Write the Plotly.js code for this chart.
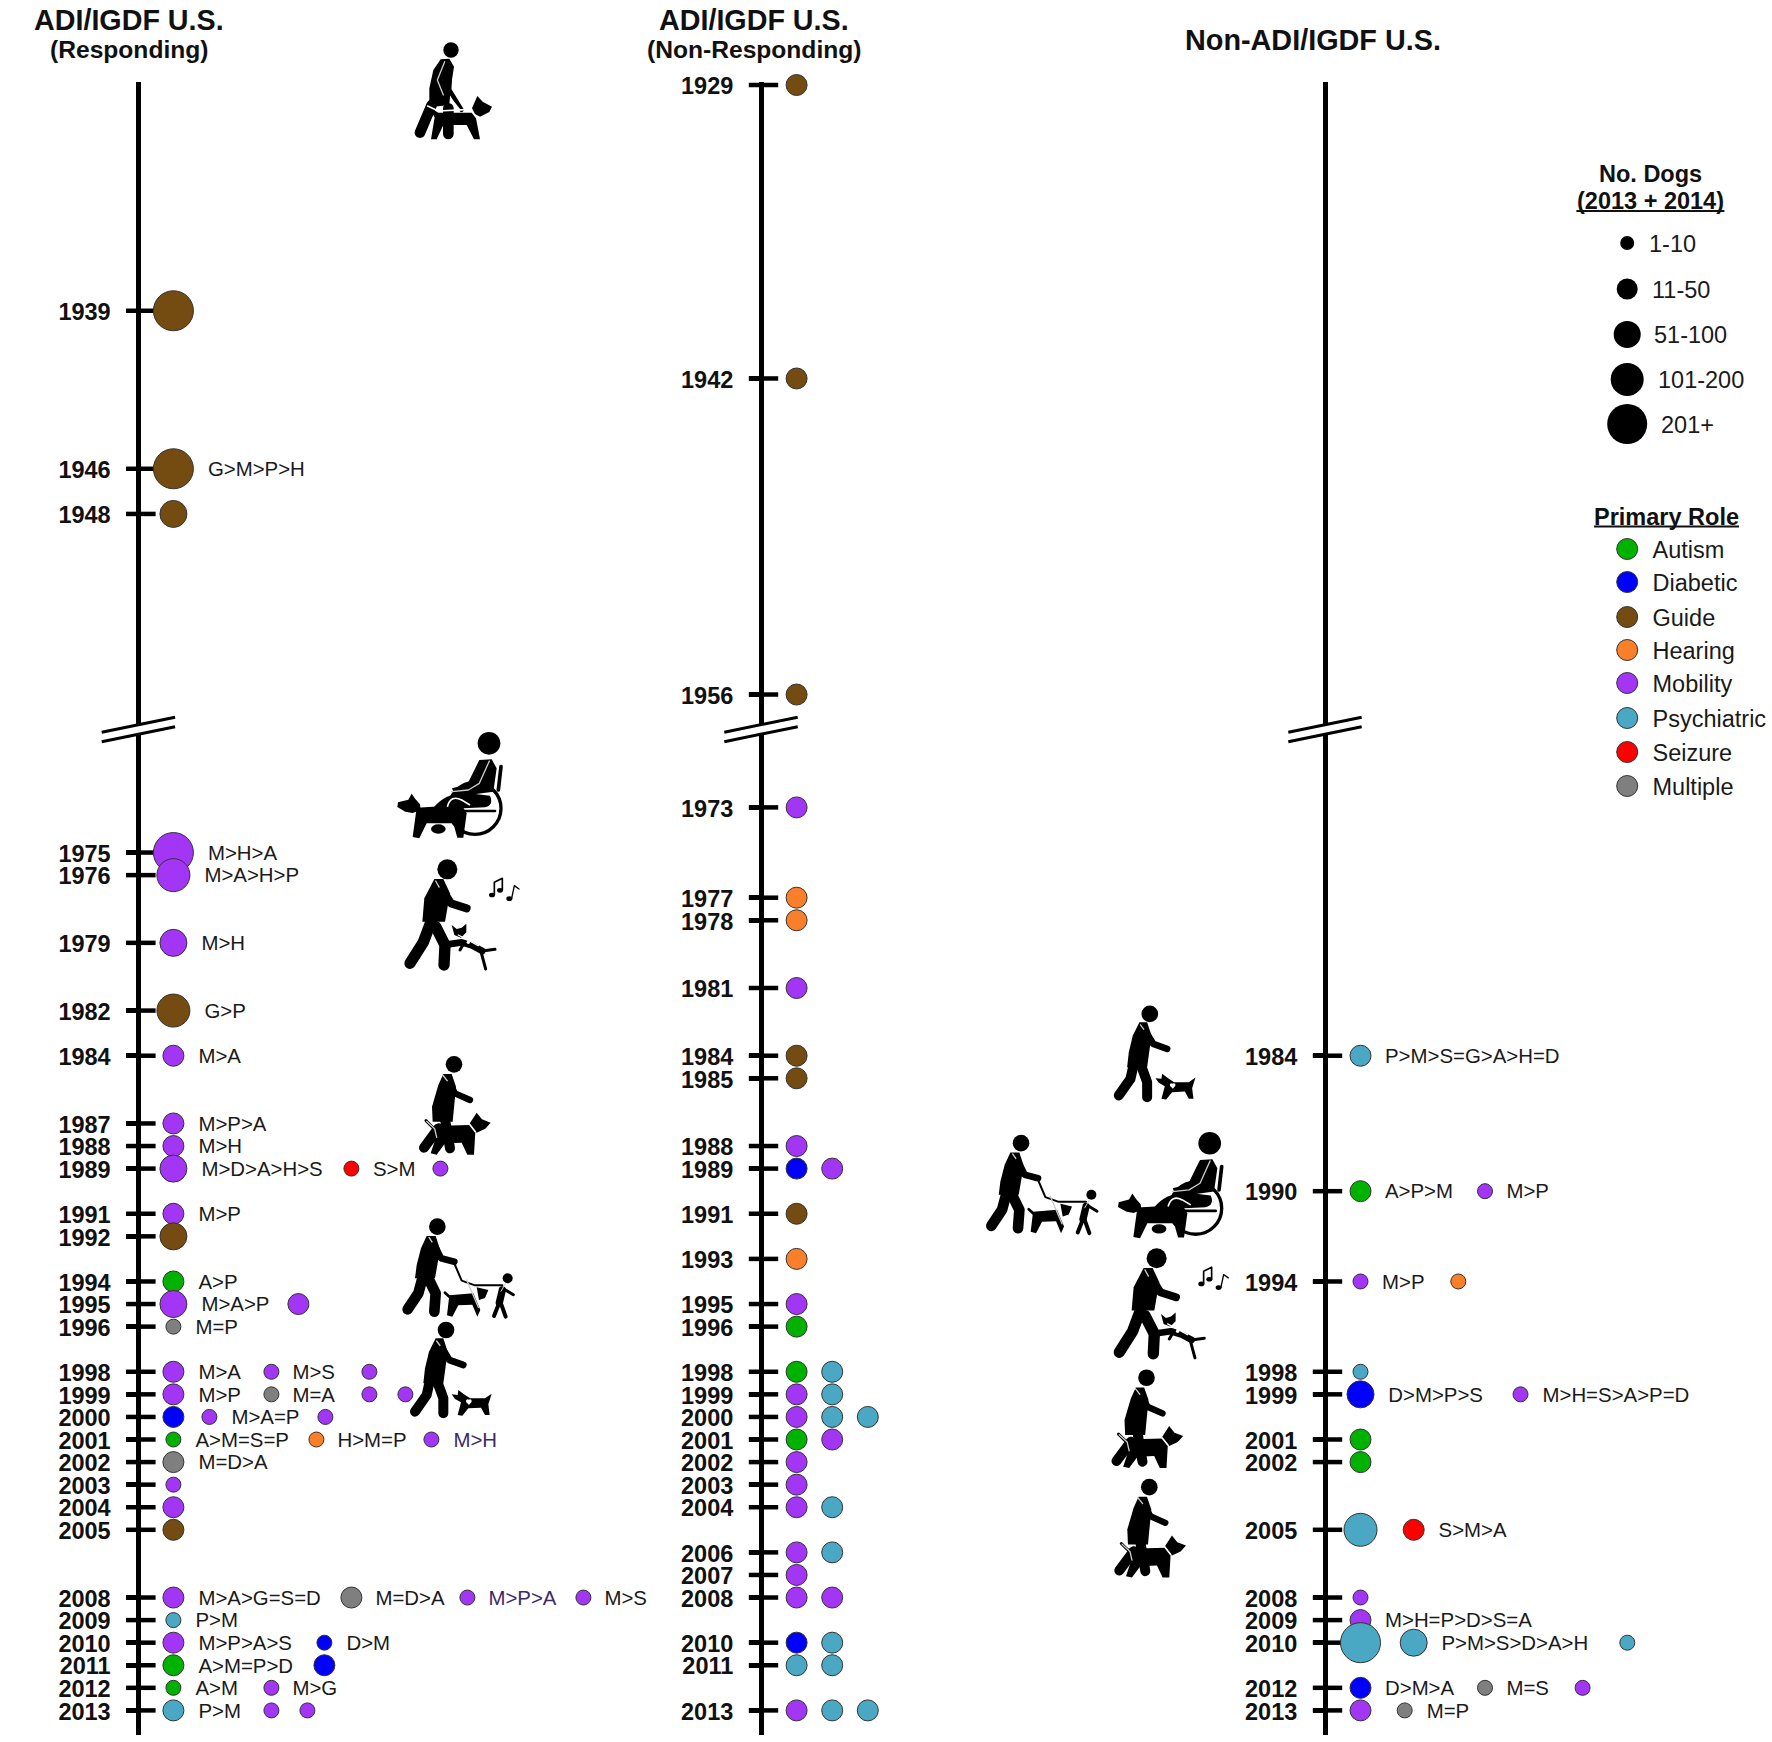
<!DOCTYPE html>
<html>
<head>
<meta charset="utf-8">
<script src="https://cdn.plot.ly/plotly-3.0.1.min.js"></script>
<style>html,body{margin:0;padding:0;background:#fff}#chart{width:1772px;height:1742px}</style>
</head>
<body>
<div id="chart"></div>
<script>
// ---------- DATA ----------
const roleCodes = ['A','D','G','H','M','P','S','X'];
const roleNames = ['Autism','Diabetic','Guide','Hearing','Mobility','Psychiatric','Seizure','Multiple'];
const binNames = ['1-10','11-50','51-100','101-200','201+'];

// Panel 1: ADI/IGDF U.S. (Responding)
const respYears = [1939,1946,1948,1975,1976,1979,1982,1984,1987,1988,1989,1989,1989,1991,1992,1994,1995,1995,1996,1998,1998,1998,1999,1999,1999,1999,2000,2000,2000,2001,2001,2001,2002,2003,2004,2005,2008,2008,2008,2008,2009,2010,2010,2011,2011,2012,2012,2013,2013,2013];
const respRoles = 'G G G M M M G M M M M S M M G A M M X M M M M X M M D M M A H M X M M G M X M M P M D A D A M P M M'.split(' ');
const respBins  = [5,5,3,5,4,3,4,2,2,2,3,1,1,2,3,2,3,2,1,2,1,1,2,1,1,1,2,1,1,1,1,1,2,1,2,2,2,2,1,1,1,2,1,2,2,1,1,2,1,1];
const respLabelYears = [1946,1975,1976,1979,1982,1984,1987,1988,1989,1989,1991,1994,1995,1996,1998,1998,1999,1999,2000,2001,2001,2001,2002,2008,2008,2008,2008,2009,2010,2010,2011,2012,2012,2013];
const respLabels = ['G>M>P>H','M>H>A','M>A>H>P','M>H','G>P','M>A','M>P>A','M>H','M>D>A>H>S','S>M','M>P','A>P','M>A>P','M=P','M>A','M>S','M>P','M=A','M>A=P','A>M=S=P','H>M=P','M>H','M=D>A','M>A>G=S=D','M=D>A','M>P>A','M>S','P>M','M>P>A>S','D>M','A>M=P>D','A>M','M>G','P>M'];

// Panel 2: ADI/IGDF U.S. (Non-Responding)
const nonRespYears = [1929,1942,1956,1973,1977,1978,1981,1984,1985,1988,1989,1989,1991,1993,1995,1996,1998,1998,1999,1999,2000,2000,2000,2001,2001,2002,2003,2004,2004,2006,2006,2007,2008,2008,2010,2010,2011,2011,2013,2013,2013];
const nonRespRoles = 'G G G M H H M G G M D M G H M A A P M P M P P A M M M M P M P M M M D P P P M P P'.split(' ');

// Panel 3: Non-ADI/IGDF U.S.
const nonAdiYears = [1984,1990,1990,1994,1994,1998,1999,1999,2001,2002,2005,2005,2008,2009,2010,2010,2010,2012,2012,2012,2013,2013];
const nonAdiRoles = 'P A M M H P D M A A P S M M P P P D X M M X'.split(' ');
const nonAdiBins  = [2,2,1,1,1,1,3,1,2,2,4,2,1,2,5,3,1,2,1,1,2,1];
const nonAdiLabelYears = [1984,1990,1990,1994,1999,1999,2005,2009,2010,2012,2012,2013];
const nonAdiLabels = ['P>M>S=G>A>H=D','A>P>M','M>P','M>P','D>M>P>S','M>H=S>A>P=D','S>M>A','M>H=P>D>S=A','P>M>S>D>A>H','D>M>A','M=S','M=P'];

// ---------- LAYOUT CONSTANTS (pixels, styles) ----------
const W = 1772, H = 1742;
const FONT = '"Liberation Sans", Arial, sans-serif';
const roleColors = ['#00b200','#0000ff','#744c11','#f97f2a','#a335f5','#4aa8c4','#ff0000','#7f7f7f'];
const binSizes = [15,21,27,33,40];
const colorOf = r => roleColors[roleCodes.indexOf(r)];
const sizeOf = b => binSizes[b-1];

const respDotX = [35,35,35,35,35,35,35,35,35,35,35,213,302,35,35,35,35,160,35,35,133,231,35,133,231,267,35,71,187,35,178,293,35,35,35,35,35,213,329,445,35,35,186,35,186,35,133,35,133,169];
const respLabelX = [69.5,69.5,66,63,66,60,60,60,63,234.5,60,60,63,57,60,154,60,154,93,57,199,315,60,60,237,350,466,57,60,208,60,57,154,60];
const respLabelColors = respLabels.map((_, i) => (i === 21 || i === 25) ? '#3d2a66' : '#1a1a1a');
const nonRespDotX = [35.6,35.6,35.6,35.6,35.6,35.6,35.6,35.6,35.6,35.6,35.6,71.2,35.6,35.6,35.6,35.6,35.6,71.2,35.6,71.2,35.6,71.2,106.8,35.6,71.2,35.6,35.6,35.6,71.2,35.6,71.2,35.6,35.6,71.2,35.6,71.2,35.6,71.2,35.6,71.2,106.8];
const nonAdiDotX = [35.5,35.5,160,35.5,133.3,35.5,35.5,195.5,35.5,35.5,35.5,88.7,35.5,35.5,35.5,88.7,302.3,35.5,160,257.6,35.5,79.7];
const nonAdiLabelX = [60,60,181.4,57,63.3,217.5,113.6,60,116.4,60,181.4,101.7];

// The axis break: years after it are drawn closer to the years before it.
const BREAK_AFTER = 1956, BREAK_GAP = 12;
const pos = y => y > BREAK_AFTER ? y - BREAK_GAP : y;
const PX_PER_YEAR = 22.575, Y0_PX = 85, Y0 = 1929;
const AXIS_TOP = 82, AXIS_BOTTOM = 1735;
const pxToPos = p => Y0 + (p - Y0_PX) / PX_PER_YEAR;
const LABEL_NUDGE = 2.2 / PX_PER_YEAR;

const axisX = [138.4, 761, 1325];
const panelEnd = [758, 1322, 1770];
const uniq = a => [...new Set(a)].sort((p, q) => p - q);

const layout = {
  width: W, height: H, margin: {l:0,r:0,t:0,b:0,pad:0},
  paper_bgcolor:'#fff', plot_bgcolor:'rgba(0,0,0,0)', showlegend:false,
  font:{family:FONT,color:'#000'}, annotations:[], shapes:[], images:[],
  xaxis4:{domain:[0,1],range:[0,W],visible:false,fixedrange:true},
  yaxis4:{domain:[0,1],range:[H,0],visible:false,fixedrange:true,anchor:'x4'}
};
const traces = [];

function panel(n, years, roles, bins, dotX, labelYears, labels, labelX, labelColors) {
  const s = n === 1 ? '' : String(n);
  const lw = 5, ax = axisX[n-1];
  const left = ax + lw/2;
  layout['xaxis'+s] = {domain:[left/W, panelEnd[n-1]/W], range:[lw/2, panelEnd[n-1]-left+lw/2],
    visible:false, fixedrange:true, anchor:'y'+s};
  const vals = uniq(years);
  layout['yaxis'+s] = {domain:[(H-AXIS_BOTTOM)/H,(H-AXIS_TOP)/H],
    range:[pxToPos(AXIS_BOTTOM), pxToPos(AXIS_TOP)], anchor:'x'+s, fixedrange:true,
    showgrid:false, zeroline:false, showline:true, linewidth:lw, linecolor:'#000',
    ticks:'outside', ticklen:9.5, tickwidth:4.5, tickcolor:'#000',
    tickmode:'array', tickvals:vals.map(pos), ticktext:vals.map(String),
    ticklabelstandoff:11, ticklabelshift:-1, tickfont:{family:FONT,size:23.5,color:'#111',weight:700}};
  // right half of each crossing tick: sits at the left edge of the panel
  traces.push({xaxis:'x'+s,yaxis:'y'+s,type:'scatter',mode:'markers',cliponaxis:false,hoverinfo:'skip',
    x:vals.map(()=>lw/2), y:vals.map(pos),
    marker:{symbol:'line-ew',size:21,line:{width:4.5,color:'#000'}}});
  // dots
  traces.push({xaxis:'x'+s,yaxis:'y'+s,type:'scatter',mode:'markers',cliponaxis:false,
    x:dotX, y:years.map(pos), name:'Dogs',
    marker:{color:roles.map(colorOf), size:bins.map(sizeOf), opacity:1, line:{width:1,color:'#333'}}});
  // role-order labels
  if (labels.length) traces.push({xaxis:'x'+s,yaxis:'y'+s,type:'scatter',mode:'text',cliponaxis:false,hoverinfo:'skip',
    x:labelX, y:labelYears.map(y=>pos(y)+LABEL_NUDGE), text:labels, textposition:'middle right',
    textfont:{family:FONT,size:20.4,color:labelColors}});
  // axis break marks (drawn on the full-page axes so they are not clipped at the axis line)
  const dx = 36.7, rise = 7.5;
  const yA = 724.7, yB = 734.2;
  layout.shapes.push({type:'path',xref:'x4',yref:'y4',layer:'above',line:{width:0},fillcolor:'#fff',
    path:`M ${ax-dx} ${yA+rise} L ${ax+dx} ${yA-rise} L ${ax+dx} ${yB-rise} L ${ax-dx} ${yB+rise} Z`});
  [yA,yB].forEach(y=>layout.shapes.push({type:'line',xref:'x4',yref:'y4',layer:'above',
    line:{width:3,color:'#000'},x0:ax-dx,x1:ax+dx,y0:y+rise,y1:y-rise}));
}
panel(1,respYears,respRoles,respBins,respDotX,respLabelYears,respLabels,respLabelX,respLabelColors);
panel(2,nonRespYears,nonRespRoles,nonRespYears.map(()=>2),nonRespDotX,[],[],[],[]);
panel(3,nonAdiYears,nonAdiRoles,nonAdiBins,nonAdiDotX,nonAdiLabelYears,nonAdiLabels,nonAdiLabelX,'#1a1a1a');

// ---------- LEGENDS ----------
const legendDotX = 1627.2;
const binLegendY = [243,289,334.4,379.4,424];
const binLegendTextX = [1649,1652,1654,1658,1661];
const roleLegendY = [549,582,617,650,683,718,752,786];
const roleLegendTextX = 1652.5;
traces.push({xaxis:'x4',yaxis:'y4',type:'scatter',mode:'markers',cliponaxis:false,
  x:binLegendY.map(()=>legendDotX), y:binLegendY, text:binNames, hoverinfo:'text',
  marker:{color:'#000',opacity:1,size:[14,21,27,33,40],line:{width:0}}});
traces.push({xaxis:'x4',yaxis:'y4',type:'scatter',mode:'text',cliponaxis:false,hoverinfo:'skip',
  x:binLegendTextX, y:binLegendY.map(v=>v+3), text:binNames, textposition:'middle right',
  textfont:{family:FONT,size:23.5,color:'#1a1a1a'}});
traces.push({xaxis:'x4',yaxis:'y4',type:'scatter',mode:'markers',cliponaxis:false,
  x:roleLegendY.map(()=>legendDotX), y:roleLegendY, text:roleNames, hoverinfo:'text',
  marker:{color:roleColors,opacity:1,size:21,line:{width:1,color:'#333'}}});
traces.push({xaxis:'x4',yaxis:'y4',type:'scatter',mode:'text',cliponaxis:false,hoverinfo:'skip',
  x:roleNames.map(()=>roleLegendTextX), y:roleLegendY.map(v=>v+3), text:roleNames, textposition:'middle right',
  textfont:{family:FONT,size:23.5,color:'#1a1a1a'}});

// ---------- TITLES ----------
function note(text,x,y,size){
  layout.annotations.push({text,x,y,xref:'x4',yref:'y4',showarrow:false,xanchor:'center',yanchor:'middle',
    font:{family:FONT,size,color:'#111',weight:700}});
}
note('ADI/IGDF U.S.',129.4,19.5,28.7);
note('(Responding)',129.4,49.5,24.6);
note('ADI/IGDF U.S.',753.7,19.5,28.7);
note('(Non-Responding)',753.7,49.5,24.6);
note('Non-ADI/IGDF U.S.',1313,39.5,28.8);
note('No. Dogs',1650.4,174,23.5);
note('(2013 + 2014)',1650.4,200.5,23.5);
note('Primary Role',1666.5,516.5,23.5);
[[1576.4,1724.4,211],[1594,1739,526.5]].forEach(([a,b,y])=>layout.shapes.push({type:'line',xref:'x4',yref:'y4',
  x0:a,x1:b,y0:y,y1:y,line:{width:2,color:'#111'}}));

// ---------- PICTOGRAMS ----------
const ln=(pts,w,c='#000')=>`<polyline points="${pts}" fill="none" stroke="${c}" stroke-width="${w}" stroke-linecap="round" stroke-linejoin="round"/>`;
const dot=(x,y,r,c='#000')=>`<circle cx="${x}" cy="${y}" r="${r}" fill="${c}"/>`;
const pg=(pts,c='#000')=>`<polygon points="${pts}" fill="${c}"/>`;
const svg=(w,h,body)=>'data:image/svg+xml;base64,'+btoa(`<svg xmlns="http://www.w3.org/2000/svg" width="${w}" height="${h}" viewBox="0 0 ${w} ${h}">${body}</svg>`);

const iconGuide = svg(330,360,
  dot(153,60,23)+
  ln('95,225 60,308',32)+ln('145,235 145,312',32)+
  pg('122,88 148,86 162,110 152,175 148,225 88,232 88,175 100,120')+
  ln('134,95 112,150 130,195',4,'#ccc')+
  ln('150,110 148,180 185,240',13)+
  pg('82,228 115,248 215,248 228,265 240,328 222,328 200,285 130,285 110,328 93,328 104,262')+
  pg('216,235 232,198 248,215 276,230 268,246 240,260 225,252')+
  ln('83,228 115,243 212,238',5,'#fff')+ln('152,205 180,240',4,'#fff'));

const iconWheel = svg(390,375,
  dot(297,55,34)+
  `<circle cx="255" cy="250" r="78" fill="none" stroke="#000" stroke-width="10"/>`+
  ln('333,125 325,195',11)+ln('225,258 315,258',8)+
  `<path d="M130 248 Q165 205 225 203 L300 212 Q312 240 285 247 L170 252 Z" fill="#000"/>`+
  `<ellipse cx="145" cy="312" rx="22" ry="14" fill="#000"/>`+
  pg('268,105 305,103 320,130 310,200 235,210 195,212 186,190 232,178 258,125')+
  ln('298,108 268,175 235,195 185,200',4,'#ccc')+
  pg('80,248 215,240 230,265 220,338 202,338 190,295 110,295 88,340 68,336')+
  pg('92,255 68,264 46,260 22,246 24,232 55,224 65,206 76,222 90,238')+
  `<path d="M172 245 Q183 208 215 225 L240 240" fill="none" stroke="#fff" stroke-width="5"/>`);

const iconHear = svg(390,390,
  dot(157,43,30)+
  ln('108,200 85,262 45,325',34)+ln('122,215 150,270 147,330',34)+
  pg('118,72 145,72 165,115 150,200 82,200 88,130')+
  ln('122,78 140,110 158,140',4,'#ccc')+
  ln('143,105 168,145 215,160',24)+
  ln('158,268 200,262 232,272 262,288',20)+ln('262,288 300,283',9)+ln('258,290 272,342',9)+ln('205,268 195,285',9)+
  pg('170,210 185,222 200,218 214,206 214,232 198,248 178,240')+
  ln('190,240 250,272',4,'#fff')+dot(220,262,5,'#fff')+
  ln('298,120 298,82 322,70 322,105',5)+`<ellipse cx="291" cy="120" rx="9" ry="7" fill="#000"/><ellipse cx="315" cy="106" rx="9" ry="7" fill="#000"/>`+
  ln('350,130 358,92 372,102',4)+`<ellipse cx="343" cy="131" rx="9" ry="7" fill="#000"/>`);

const iconMob = svg(330,330,
  dot(132,43,25)+
  ln('85,235 42,293',30)+ln('102,190 120,295',30)+
  pg('100,72 125,72 138,110 128,215 68,215 66,170 85,105')+
  ln('98,75 118,100 128,130',4,'#ccc')+
  ln('120,100 135,130 180,150',19)+
  pg('66,228 180,225 196,245 192,314 172,314 155,278 105,280 80,314 62,310 78,262')+
  ln('48,212 70,234',9)+
  pg('178,222 200,188 216,208 242,218 226,236 200,248')+
  ln('50,214 74,236 80,262',4,'#ccc')+ln('178,222 196,245',5,'#fff'));

const iconChild = svg(390,375,
  dot(127,50,25)+
  ln('82,205 70,250 38,298',32)+ln('100,205 122,250 118,305',32)+
  pg('95,78 122,78 135,118 120,205 60,205 65,165 78,115')+
  ln('102,82 122,112 136,148',4,'#ccc')+
  ln('118,105 138,145 178,155',20)+
  ln('180,165 200,212 240,226 322,226',6)+
  pg('163,256 235,250 256,300 247,320 232,284 190,286 172,320 156,316')+
  ln('150,248 168,265',8)+
  pg('245,232 280,240 270,264 252,270')+
  ln('215,210 250,292',4,'#ccc')+
  dot(338,205,15)+
  ln('322,240 313,278',22)+ln('328,238 355,254',9)+ln('314,275 297,318',12)+ln('316,275 332,320',12)+
  ln('332,220 318,244',3,'#ccc'));

const iconSmall = svg(330,345,
  dot(123,45,25)+
  ln('75,195 65,240 30,290',30)+ln('95,195 115,250 115,295',30)+
  pg('92,70 115,70 128,110 115,205 55,205 60,160 72,110')+
  ln('95,78 115,105 130,138',4,'#ccc')+
  ln('112,100 133,135 175,150',20)+
  pg('140,238 158,240 160,225 180,240 196,250 240,250 260,236 250,268 254,300 240,300 228,278 190,280 172,302 158,300 168,262 150,252')+
  dot(188,258,5,'#fff')+dot(195,258,5,'#fff')+pg('183,260 200,260 192,270','#fff'));

// [source, left px, top px, width px, height px]
const iconPlacements = [
  [iconGuide,400,30,110,120],[iconWheel,390,725,130,125],[iconHear,395,855,130,130],
  [iconMob,410,1050,110,110],[iconChild,395,1210,130,125],[iconSmall,405,1315,110,115],
  [iconSmall,1108.8,998.8,110,115],[iconChild,978.7,1126.5,130,125],[iconWheel,1110.7,1124.9,130,125],
  [iconHear,1104.3,1243.9,130,130],[iconMob,1102.5,1363.4,110,110],[iconMob,1105.3,1472.8,110,110]
];
iconPlacements.forEach(([source,l,t,w,h])=>layout.images.push({source,xref:'paper',yref:'paper',
  x:l/W,y:1-t/H,sizex:w/W,sizey:h/H,xanchor:'left',yanchor:'top',sizing:'stretch',layer:'above'}));

Plotly.newPlot('chart',traces,layout,{staticPlot:true,displayModeBar:false});
</script>
</body>
</html>
